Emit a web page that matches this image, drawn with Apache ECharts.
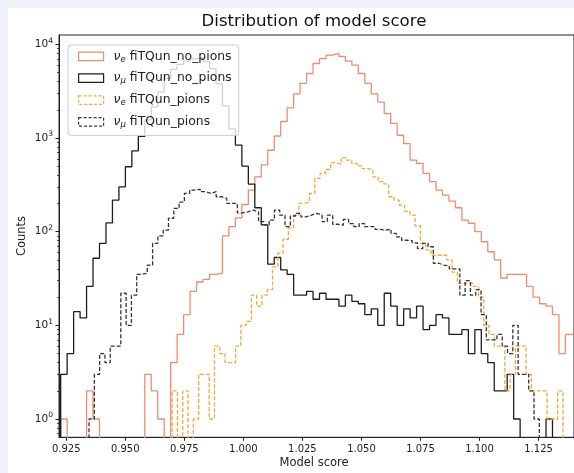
<!DOCTYPE html>
<html>
<head>
<meta charset="utf-8">
<script src="https://cdn.jsdelivr.net/npm/echarts@6/dist/echarts.min.js"></script>
<style>
html,body{margin:0;padding:0;background:#eef0fa;width:574px;height:473px;overflow:hidden;}
#c{position:absolute;left:8px;top:8px;width:566px;height:465px;background:#ffffff;}
</style>
</head>
<body>
<div id="c"></div>
<script>
// ---------------- DATA ----------------
// Histogram bins: solid series share one binning, dashed series have their own
var solidBinStart = 0.92265, solidBinWidth = 0.00274;
var muPiBinStart = 0.934656, muPiBinWidth = 0.002243;
var ePiBinStart = 0.969876, ePiBinWidth = 0.002236;

var seriesNames = ['nue_nopi', 'numu_nopi', 'nue_pi', 'numu_pi'];
var legendLabels = [
  ['e', 'fiTQun_no_pions'],
  ['\u03bc', 'fiTQun_no_pions'],
  ['e', 'fiTQun_pions'],
  ['\u03bc', 'fiTQun_pions']
];

// nu_e fiTQun_no_pions (counts per bin)
var nueNoPions = [1,0,0,0,2,1,0,0,0,0,0,0,0,3,2,1,0,4,8,13,23,29,31,35,36,90,113,140,195,278,
  385,516,740,1050,1500,2100,2960,3830,4880,6240,7050,7650,7980,7430,6630,5990,4880,3830,2960,2420,
  1820,1430,1070,870,580,536,418,342,278,246,212,180,133,123,100,78,61,50,32,35,
  35,35,26,20,17,16,13,5,8,8];
// nu_mu fiTQun_no_pions
var numuNoPions = [3,5,14,12,26,52,75,124,217,301,493,730,1040,1560,2150,3100,4300,5400,6100,6600,
  7000,7200,6600,5500,3800,2200,1250,840,500,322,180,118,45,53,39,35,21,21,23,19,
  22,19,19,16,21,18,17,13,15,10,22,16,10,15,12,16,9,10,13,12,
  8,8,9,5,9,5,4,2,2,3,1,0,0,0,0,1,0,0,0,0];
// nu_e fiTQun_pions
var nuePions = [2,0,2,0,1,3,3,1,6,5,4,4,6,10,11,21,16,21,24,42,
  59,83,110,150,200,208,256,370,418,461,545,525,617,580,536,503,470,457,385,342,
  323,236,217,192,165,150,115,75,64,56,56,56,50,37,28,28,28,26,20,10,
  8,6,6,2,3,6,6,3,2,2,2,1,1,2,0];
// nu_mu fiTQun_pions
var numuPions = [1,3,5,4,6,6,22,10,21,35,36,44,75,90,104,139,177,207,256,278,
  283,267,256,267,236,227,200,200,159,163,170,163,128,118,133,170,150,113,147,157,
  144,150,157,150,128,150,120,117,135,122,113,122,113,113,106,104,106,96,88,81,
  80,76,66,75,69,46,44,43,40,40,21,30,21,24,13,7,7,8,6,5,
  10,3,3,2,1,0,0,0,0,0];

var xTicks = [0.925, 0.95, 0.975, 1.0, 1.025, 1.05, 1.075, 1.1, 1.125];
var yMajorTicks = [1, 10, 100, 1000, 10000];
var yMinorTicks = [0.7,0.8,0.9,2,3,4,5,6,7,8,9,20,30,40,50,60,70,80,90,
  200,300,400,500,600,700,800,900,2000,3000,4000,5000,6000,7000,8000,9000];

// ---------------- BUILD ----------------
var FLOOR = 0.01; // zero counts fall below the visible log range
function stepPoints(counts, start, width) {
  var pts = [[start, FLOOR]];
  for (var i = 0; i < counts.length; i++) {
    var c = counts[i] > 0 ? counts[i] : FLOOR;
    pts.push([start + i * width, c]);
    pts.push([start + (i + 1) * width, c]);
  }
  pts.push([start + counts.length * width, FLOOR]);
  return pts;
}

var colors = ['#f08c6e', '#1e1e1e', '#f6a53a', '#333333'];
var dashes = ['solid', 'solid', [4, 2], [4, 2]];
var dataSets = [
  stepPoints(nueNoPions, solidBinStart, solidBinWidth),
  stepPoints(numuNoPions, solidBinStart, solidBinWidth),
  stepPoints(nuePions, ePiBinStart, ePiBinWidth),
  stepPoints(numuPions, muPiBinStart, muPiBinWidth)
];

var series = dataSets.map(function (d, i) {
  return {
    name: seriesNames[i],
    type: 'line',
    data: d,
    showSymbol: false,
    symbol: 'none',
    clip: true,
    lineStyle: { color: colors[i], width: 1.3, type: dashes[i] },
    itemStyle: { color: colors[i] },
    z: 2 + i
  };
});

var FONT = 'DejaVu Sans';
var chart = echarts.init(document.getElementById('c'), null, { renderer: 'canvas' });
var yMin = 0.638, yMax = 12570;

chart.setOption({
  animation: false,
  backgroundColor: '#ffffff',
  grid: { left: 51, top: 27, right: -5, bottom: 35.7, show: true, borderColor: '#222', borderWidth: 1, backgroundColor: 'transparent' },
  xAxis: {
    type: 'value', min: 0.92194, max: 1.14,
    axisLine: { show: true, lineStyle: { color: '#222', width: 1 } },
    axisTick: { show: true, length: 3.5, customValues: xTicks, lineStyle: { color: '#222' } },
    axisLabel: { customValues: xTicks, margin: 7, color: '#222', fontFamily: FONT, fontSize: 10,
      formatter: function (v) { return v.toFixed(3); } },
    splitLine: { show: false }
  },
  yAxis: [{
    type: 'log', logBase: 10, min: yMin, max: yMax,
    axisLine: { show: true, lineStyle: { color: '#222', width: 1 } },
    axisTick: { show: true, length: 3.5, customValues: yMajorTicks, lineStyle: { color: '#222' } },
    axisLabel: { customValues: yMajorTicks, margin: 6, color: '#222', fontFamily: FONT, fontSize: 10.5,
      formatter: function (v) { return '10{sup|' + Math.round(Math.log10(v)) + '}'; },
      rich: { sup: { fontSize: 7.5, fontFamily: FONT, color: '#222', padding: [0, 0, 7, 0] } } },
    splitLine: { show: false }
  }, {
    type: 'log', logBase: 10, min: yMin, max: yMax, position: 'left',
    axisLine: { show: false },
    axisTick: { show: true, length: 2, customValues: yMinorTicks, lineStyle: { color: '#222', width: 0.8 } },
    axisLabel: { show: false },
    splitLine: { show: false }
  }],
  legend: {
    orient: 'vertical', left: 60, top: 37,
    padding: [4, 7, 6, 10],
    itemWidth: 25, itemHeight: 8.5, itemGap: 7,
    backgroundColor: 'rgba(255,255,255,0.8)', borderColor: '#cccccc', borderWidth: 1, borderRadius: 3,
    icon: 'rect',
    data: seriesNames.map(function (n, i) {
      return { name: n, icon: 'rect',
        itemStyle: { color: 'rgba(0,0,0,0)', borderColor: colors[i], borderWidth: 1.2,
          borderType: (i >= 2 ? [3, 2] : 'solid') } };
    }),
    formatter: function (name) {
      var l = legendLabels[seriesNames.indexOf(name)];
      return '{gap|}{nu|\u03bd}{sub|' + l[0] + '} ' + l[1];
    },
    textStyle: { fontFamily: FONT, fontSize: 12.4, color: '#222', lineHeight: 14.7,
      rich: {
        gap: { width: 5 },
        nu: { fontFamily: FONT, fontStyle: 'italic', fontSize: 12.4, color: '#222' },
        sub: { fontFamily: FONT, fontStyle: 'italic', fontSize: 8.5, color: '#222', padding: [6, 0, 0, 0] }
      } },
    selectedMode: false
  },
  graphic: [
    { type: 'text', x: 306, y: 14, style: { text: 'Distribution of model score', fontFamily: FONT, fontSize: 16.6, fill: '#111', textAlign: 'center', textVerticalAlign: 'middle' } },
    { type: 'text', x: 306, y: 455, style: { text: 'Model score', fontFamily: FONT, fontSize: 11.5, fill: '#222', textAlign: 'center', textVerticalAlign: 'middle' } },
    { type: 'text', x: 14, y: 228, rotation: Math.PI / 2, style: { text: 'Counts', fontFamily: FONT, fontSize: 11.5, fill: '#222', textAlign: 'center', textVerticalAlign: 'middle' } }
  ],
  series: series
});
</script>
</body>
</html>
